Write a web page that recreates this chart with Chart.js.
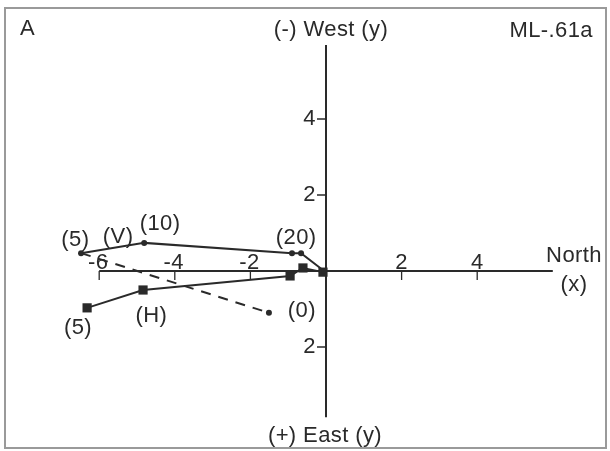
<!DOCTYPE html>
<html>
<head>
<meta charset="utf-8">
<script src="https://cdn.jsdelivr.net/npm/chart.js@4"></script>
<style>
html,body{margin:0;padding:0;background:#fff;}
canvas{display:block;}
</style>
</head>
<body>
<canvas id="c" width="610" height="451"></canvas>
<script>
// Vertical projection (V), circles
const vX = [-6.48, -4.81, -0.90, -0.66, -0.05];
const vY = [0.47, 0.74, 0.47, 0.47, 0.0];
// Horizontal projection (H), squares
const hX = [-6.32, -4.84, -0.95, -0.61, -0.08];
const hY = [-0.97, -0.50, -0.13, 0.08, -0.03];
// Dashed segment ending at step (0)
const dashX = [-6.48, -1.51];
const dashY = [0.47, -1.10];
// Axis ticks
const xTicks = [-6, -4, -2, 2, 4];
const yTicks = [4, 2, -2];
const xAxisRange = [-6, 6];
const yAxisRange = [-3.85, 5.95];
// Annotation labels [text, x, y]
const pointLabels = [
  ['(5)', -6.63, 0.82],
  ['(V)', -5.50, 0.90],
  ['(10)', -4.39, 1.24],
  ['(20)', -0.79, 0.87],
  ['(0)', -0.64, -1.05],
  ['(5)', -6.56, -1.50],
  ['(H)', -4.62, -1.18]
];

const toPts = (xs, ys) => xs.map((x, i) => ({x: x, y: ys[i]}));
const INK = '#2a2a2a';
const FONT = '22px "Liberation Sans", Arial, Helvetica, sans-serif';

function setFont(ctx) {
  ctx.font = FONT;
  try { ctx.letterSpacing = '0.4px'; } catch (e) {}
}

const overlay = {
  id: 'overlay',
  beforeDatasetsDraw(chart) {
    const ctx = chart.ctx, xs = chart.scales.x, ys = chart.scales.y;
    const X = v => xs.getPixelForValue(v), Y = v => ys.getPixelForValue(v);
    ctx.save();
    // frame
    ctx.strokeStyle = '#9a9a9a';
    ctx.lineWidth = 2;
    ctx.strokeRect(5, 8, 601, 440);
    // axes
    ctx.strokeStyle = INK;
    ctx.lineWidth = 2;
    ctx.beginPath();
    ctx.moveTo(X(xAxisRange[0]), Y(0)); ctx.lineTo(X(xAxisRange[1]), Y(0));
    ctx.moveTo(X(0), Y(yAxisRange[1])); ctx.lineTo(X(0), Y(yAxisRange[0]));
    ctx.stroke();
    ctx.lineWidth = 1.3;
    ctx.beginPath();
    xTicks.forEach(t => { ctx.moveTo(X(t), Y(0)); ctx.lineTo(X(t), Y(0) + 9); });
    yTicks.forEach(t => { ctx.moveTo(X(0), Y(t)); ctx.lineTo(X(0) - 9, Y(t)); });
    ctx.stroke();
    ctx.fillStyle = INK;
    setFont(ctx);
    ctx.textAlign = 'center';
    ctx.textBaseline = 'alphabetic';
    xTicks.forEach(t => { ctx.fillText(String(t), X(t) + (t < 0 ? -1 : 0), Y(0) - 2); });
    ctx.textAlign = 'right';
    ctx.textBaseline = 'middle';
    yTicks.forEach(t => { ctx.fillText(String(Math.abs(t)), X(0) - 10, Y(t)); });
    ctx.restore();
  },
  afterDatasetsDraw(chart) {
    const ctx = chart.ctx, xs = chart.scales.x, ys = chart.scales.y;
    const X = v => xs.getPixelForValue(v), Y = v => ys.getPixelForValue(v);
    ctx.save();
    ctx.fillStyle = INK;
    setFont(ctx);
    ctx.textAlign = 'center';
    ctx.textBaseline = 'middle';
    pointLabels.forEach(l => ctx.fillText(l[0], X(l[1]), Y(l[2])));
    ctx.fillText('(-) West (y)', 331, 30);
    ctx.fillText('(+) East (y)', 325, 436);
    ctx.fillText('North', 574, 256);
    ctx.fillText('(x)', 574, 285);
    ctx.textAlign = 'left';
    ctx.fillText('A', 20, 29);
    ctx.textAlign = 'right';
    ctx.fillText('ML-.61a', 593, 31);
    ctx.restore();
  }
};

new Chart(document.getElementById('c'), {
  type: 'scatter',
  data: {
    datasets: [
      {
        data: toPts(dashX, dashY), showLine: true, borderColor: INK, borderWidth: 2,
        borderDash: [10, 8], pointRadius: [0, 3], pointBackgroundColor: INK, pointBorderWidth: 0
      },
      {
        data: toPts(vX, vY), showLine: true, borderColor: INK, borderWidth: 2,
        pointStyle: 'circle', pointRadius: 3, pointBackgroundColor: INK, pointBorderWidth: 0
      },
      {
        data: toPts(hX, hY), showLine: true, borderColor: INK, borderWidth: 2,
        pointStyle: 'rect', pointRadius: 6.5, pointBackgroundColor: INK, pointBorderWidth: 0
      }
    ]
  },
  options: {
    responsive: false,
    animation: false,
    layout: {padding: 0, autoPadding: false},
    clip: false,
    plugins: {legend: {display: false}, tooltip: {enabled: false}},
    scales: {
      x: {type: 'linear', display: false, min: -326 / 37.8, max: 284 / 37.8},
      y: {type: 'linear', display: false, min: -180 / 38, max: 271 / 38}
    }
  },
  plugins: [overlay]
});
</script>
</body>
</html>
